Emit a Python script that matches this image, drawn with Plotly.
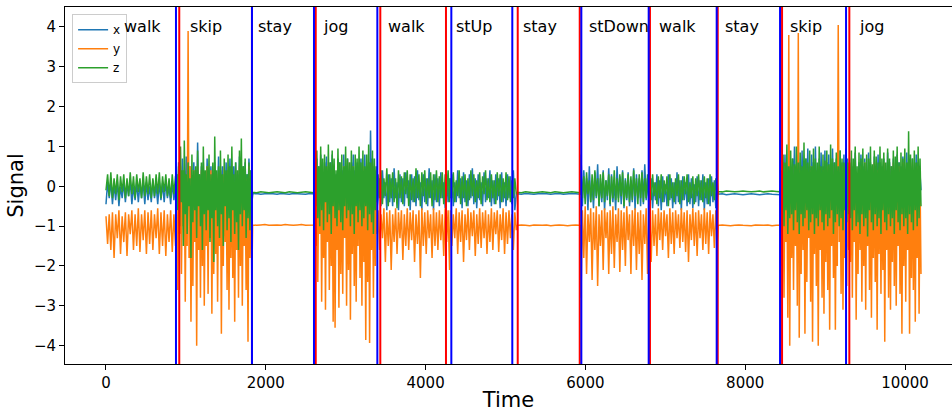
import numpy as np
import plotly.graph_objects as go

# ---------------- data ----------------
labels = ["walk", "skip", "stay", "jog", "walk", "stUp", "stay", "stDown", "walk", "stay", "skip", "jog"]
label_x = [213, 1039, 1890, 2703, 3513, 4368, 5210, 6036, 6905, 7735, 8548, 9415]
blue_lines = [876, 1827, 2603, 3396, 4322, 5085, 5949, 6792, 7643, 8436, 9262]
red_lines = [917, 1827, 2625, 3433, 4255, 5153, 5929, 6808, 7656, 8461, 9303]
x_ticks = [0, 2000, 4000, 6000, 8000, 10000]
x_tick_text = ["0", "2000", "4000", "6000", "8000", "10000"]
y_ticks = [-4, -3, -2, -1, 0, 1, 2, 3, 4]

seg_start = [0, 885, 1835, 2615, 3405, 4310, 5145, 5945, 6805, 7660, 8450, 9305]
seg_end = [870, 1825, 2600, 3395, 4300, 5135, 5935, 6795, 7650, 8440, 9295, 10200]

x_walk1 = [-0.45, 0.1, -0.3, 0.15, -0.45, 0.05, -0.35, 0.12, -0.5, 0.0, -0.3, 0.1, -0.4, 0.08, -0.25, 0.15, -0.45, 0.0, -0.35, 0.1, -0.4, 0.05, -0.3, 0.12, -0.45, 0.1, -0.35, 0.0, -0.4, 0.15, -0.3, 0.05, -0.45, 0.1, -0.35, 0.08, -0.4, 0.12, -0.3, 0.0, -0.45, 0.1, -0.35, 0.05]
y_walk1 = [-0.75, -1.45, -0.7, -1.6, -0.65, -1.8, -0.7, -1.3, -0.6, -1.7, -0.75, -1.4, -0.65, -1.75, -0.7, -1.2, -0.6, -1.6, -0.7, -1.5, -0.55, -1.65, -0.7, -1.35, -0.6, -1.7, -0.65, -1.45, -0.6, -1.6, -0.7, -1.3, -0.55, -1.7, -0.65, -1.5, -0.6, -1.75, -0.7, -1.4, -0.6, -1.65, -0.7, -1.5]
z_walk1 = [-0.1, 0.3, -0.25, 0.35, -0.3, 0.2, -0.2, 0.3, -0.35, 0.25, -0.15, 0.3, -0.3, 0.2, -0.25, 0.35, -0.2, 0.25, -0.3, 0.3, -0.15, 0.2, -0.3, 0.35, -0.25, 0.25, -0.2, 0.3, -0.3, 0.2, -0.25, 0.3, -0.2, 0.35, -0.3, 0.25, -0.15, 0.3, -0.25, 0.2, -0.3, 0.3, -0.2, 0.25]

x_skip1 = [0.3, -0.5, 0.6, -0.3, 0.2, -0.6, 0.7, -0.2, 0.4, -0.5, 0.75, -0.4, 0.3, -0.6, 0.5, -0.3, 0.2, -0.5, 0.6, -0.4, 0.4, -0.6, 1.1, -0.3, 0.3, -0.5, 0.5, -0.2, 0.6, -0.6, 0.2, -0.4, 0.7, -0.5, 0.4, -0.3, 0.5, -0.6, 0.3, -0.4, 0.6, -0.5, 0.2, -0.3, 0.75, -0.6, 0.4, -0.4, 0.5, -0.5, 0.3, -0.3, 0.6, -0.6, 0.4, -0.4, 0.7, -0.5, 0.2, -0.3, 0.5, -0.6, 0.6, -0.4, 0.3, -0.5, 0.75, -0.3, 0.4, -0.6, 0.5, -0.4, 0.6, -0.5, 0.3, -0.3, 0.7, -0.4, 0.4, -0.5]
y_skip1 = [-0.6, -2.6, 0.3, -1.2, 0.5, -2.2, 0.1, -1.0, 0.4, -2.9, 0.2, -1.5, 3.9, -1.8, 0.5, -3.4, -0.2, -2.5, 0.4, -1.4, 0.2, -4.0, 0.5, -1.6, 0.0, -2.8, 0.4, -2.0, 0.3, -3.0, -0.1, -1.5, 0.5, -2.7, 0.2, -1.3, 0.4, -3.2, 0.1, -2.2, 0.5, -1.7, 0.3, -2.9, 0.0, -1.5, 0.4, -3.7, 0.2, -2.0, 0.5, -1.4, 0.1, -2.6, 0.4, -3.1, 0.3, -1.8, 0.5, -2.3, 0.0, -3.4, 0.4, -1.6, 0.2, -2.8, 0.5, -2.0, 0.3, -3.0, 0.1, -1.5, 0.4, -2.6, 0.2, -3.9, 0.5, -1.8, 0.3, -2.4]
z_skip1 = [0.3, -0.6, 0.5, -1.0, 1.0, -0.4, 0.4, -1.5, 1.15, -0.7, 0.3, -1.2, 0.6, -0.5, 0.2, -1.8, 0.8, -0.9, 0.4, -0.6, 0.5, -1.3, 0.9, -0.5, 0.3, -1.0, 0.6, -1.6, 1.0, -0.7, 0.4, -1.1, 0.5, -0.6, 0.8, -1.4, 0.3, -0.8, 0.6, -1.9, 1.25, -0.6, 0.4, -1.0, 0.5, -1.3, 0.9, -0.7, 0.3, -1.5, 0.7, -0.5, 0.4, -1.1, 0.8, -0.8, 0.5, -1.4, 1.0, -0.6, 0.3, -1.2, 0.6, -0.9, 0.4, -1.6, 0.9, -0.7, 1.2, -1.0, 0.5, -0.6, 0.7, -1.3, 0.3, -0.8, 0.6, -1.1, 0.4, -0.5]

x_stay1 = [-0.19, -0.18, -0.2, -0.19, -0.18, -0.19, -0.2, -0.18, -0.19, -0.2, -0.18, -0.19, -0.19, -0.2, -0.18, -0.19]
y_stay1 = [-0.97, -0.98, -0.97, -0.96, -0.98, -0.97, -0.97, -0.98, -0.96, -0.97, -0.98, -0.97, -0.96, -0.98, -0.97, -0.97]
z_stay1 = [-0.15, -0.16, -0.14, -0.15, -0.16, -0.15, -0.14, -0.15, -0.16, -0.14, -0.15, -0.16, -0.15, -0.14, -0.15, -0.16]

x_jog1 = [0.4, -0.4, 0.7, -0.3, 0.5, -0.6, 0.8, -0.2, 0.3, -0.5, 0.6, -0.4, 0.75, -0.3, 0.4, -0.6, 0.6, -0.5, 0.8, -0.3, 0.5, -0.4, 0.3, -0.6, 0.7, -0.2, 0.6, -0.5, 0.4, -0.4, 0.8, -0.3, 0.5, -0.6, 0.7, -0.4, 0.3, -0.5, 0.6, -0.2, 0.8, -0.4, 0.4, -0.6, 0.6, -0.3, 0.5, -0.5, 0.7, -0.4, 0.3, -0.3, 0.8, -0.6, 0.5, -0.4, 0.6, -0.5, 1.4, -0.3, 0.7, -0.4, 0.5, -0.6, 0.4, -0.5]
y_jog1 = [-0.2, -1.5, 0.4, -2.4, 0.2, -1.2, 0.6, -2.9, 0.1, -1.8, 0.5, -3.1, 0.3, -1.4, 0.6, -2.6, 0.0, -2.0, 0.4, -3.4, 0.5, -3.55, 0.2, -1.6, 0.6, -3.05, 0.3, -2.2, 0.1, -2.7, 0.5, -1.3, 0.4, -3.0, 0.2, -2.1, 0.6, -3.35, 0.3, -1.7, 0.5, -2.5, 0.0, -2.9, 0.4, -1.5, 0.6, -2.3, 0.2, -3.0, 0.5, -1.9, 0.3, -3.86, 0.4, -2.4, 0.6, -3.93, 0.1, -1.6, 0.5, -2.8, 0.3, -2.0, 0.4, -1.2]
z_jog1 = [0.6, -0.5, 0.9, -0.8, 0.5, -1.0, 1.0, -0.6, 0.7, -1.1, 0.8, -0.4, 0.5, -0.9, 1.05, -0.7, 0.6, -1.2, 0.9, -0.5, 0.7, -0.8, 0.4, -1.0, 0.95, -0.6, 0.6, -0.9, 0.8, -1.1, 0.5, -0.5, 1.0, -0.8, 0.7, -0.6, 0.6, -1.0, 0.9, -0.7, 0.5, -1.2, 0.8, -0.5, 0.7, -0.9, 1.0, -0.6, 0.6, -1.0, 0.9, -0.8, 0.5, -0.5, 0.8, -1.1, 1.05, -0.7, 0.6, -0.9, 0.9, -1.2, 0.7, -0.6, 0.5, -0.4]

x_walk2 = [-0.3, 0.2, -0.5, 0.4, -0.3, 0.1, -0.6, 0.3, -0.4, 0.2, -0.5, 0.45, -0.3, 0.1, -0.6, 0.3, -0.4, 0.2, -0.5, 0.35, -0.3, 0.15, -0.6, 0.3, -0.4, 0.25, -0.5, 0.4, -0.35, 0.1, -0.6, 0.3, -0.4, 0.2, -0.5, 0.45, -0.3, 0.15, -0.6, 0.3, -0.4, 0.2, -0.5, 0.35, -0.3, 0.1, -0.55, 0.3, -0.4, 0.2]
y_walk2 = [-0.6, -1.6, -0.7, -1.3, -0.55, -1.9, -0.65, -1.5, -0.6, -2.1, -0.7, -1.4, -0.55, -1.7, -0.65, -1.3, -0.6, -1.85, -0.7, -1.5, -0.55, -1.6, -0.65, -1.35, -0.6, -1.9, -0.7, -1.45, -0.6, -2.3, -0.55, -1.5, -0.65, -1.7, -0.6, -1.3, -0.7, -1.8, -0.55, -1.5, -0.65, -1.6, -0.6, -1.35, -0.7, -1.75, -0.55, -1.4, -0.6, -2.1]
z_walk2 = [0.3, -0.3, 0.4, -0.45, 0.2, -0.25, 0.45, -0.5, 0.3, -0.3, 0.35, -0.4, 0.2, -0.55, 0.4, -0.3, 0.25, -0.45, 0.35, -0.2, 0.4, -0.5, 0.3, -0.35, 0.2, -0.4, 0.45, -0.3, 0.3, -0.5, 0.35, -0.25, 0.4, -0.45, 0.2, -0.3, 0.35, -0.5, 0.3, -0.35, 0.4, -0.4, 0.25, -0.3, 0.35, -0.45, 0.3, -0.25, 0.4, -0.4]

x_stup = [-0.3, 0.3, -0.5, 0.1, -0.4, 0.4, -0.3, 0.2, -0.55, 0.35, -0.4, 0.15, -0.5, 0.3, -0.3, 0.45, -0.45, 0.2, -0.55, 0.3, -0.35, 0.1, -0.5, 0.35, -0.4, 0.2, -0.3, 0.4, -0.5, 0.15, -0.45, 0.3, -0.35, 0.2, -0.55, 0.35, -0.4, 0.1, -0.5, 0.3, -0.3, 0.25, -0.45, 0.4, -0.6, -0.2]
y_stup = [-0.6, -1.5, -0.7, -1.3, -0.55, -1.7, -0.65, -1.4, -0.6, -1.9, -0.7, -1.35, -0.55, -1.6, -0.65, -1.25, -0.6, -1.75, -0.7, -1.45, -0.55, -1.55, -0.65, -1.3, -0.6, -1.7, -0.7, -1.4, -0.55, -1.6, -0.65, -1.2, -0.6, -1.65, -0.7, -1.35, -0.55, -1.7, -0.65, -1.45, -0.6, -1.3, -0.7, -1.6, -0.65, -1.1]
z_stup = [0.2, -0.3, 0.35, -0.4, 0.15, -0.25, 0.4, -0.45, 0.25, -0.3, 0.3, -0.5, 0.2, -0.35, 0.4, -0.25, 0.3, -0.4, 0.15, -0.3, 0.35, -0.45, 0.25, -0.2, 0.4, -0.35, 0.2, -0.4, 0.3, -0.3, 0.15, -0.45, 0.35, -0.25, 0.3, -0.4, 0.2, -0.3, 0.35, -0.35, 0.25, -0.4, 0.15, -0.3, 0.2, -0.2]

x_stay2 = [-0.19, -0.2, -0.18, -0.19, -0.2, -0.19, -0.18, -0.19, -0.2, -0.19, -0.18, -0.2, -0.19, -0.18, -0.19, -0.2]
y_stay2 = [-0.98, -0.97, -0.98, -0.99, -0.97, -0.98, -0.98, -0.97, -0.99, -0.98, -0.97, -0.98, -0.99, -0.98, -0.97, -0.98]
z_stay2 = [-0.15, -0.16, -0.14, -0.15, -0.16, -0.15, -0.14, -0.15, -0.16, -0.14, -0.15, -0.16, -0.15, -0.14, -0.15, -0.16]

x_stdown = [0.8, -0.5, 0.4, -0.3, 0.2, -0.6, 0.5, -0.4, 0.1, -0.55, 0.35, -0.3, 0.55, -0.5, 0.2, -0.4, 0.4, -0.6, 0.15, -0.35, 0.45, -0.5, 0.3, -0.4, 0.1, -0.6, 0.5, -0.3, 0.25, -0.45, 0.4, -0.55, 0.2, -0.35, 0.35, -0.5, 0.15, -0.4, 0.45, -0.6, 0.3, -0.3, 0.2, -0.5, 0.4, -0.45, 0.55, -0.35, 0.2, -0.5]
y_stdown = [-2.8, -0.6, -1.8, -0.5, -2.2, -0.7, -1.4, -0.55, -2.35, -0.65, -1.6, -0.5, -2.5, -0.7, -1.5, -0.6, -2.1, -0.55, -1.3, -0.65, -2.2, -0.6, -1.7, -0.5, -2.05, -0.7, -1.4, -0.55, -2.15, -0.6, -1.6, -0.65, -2.0, -0.5, -1.35, -0.7, -2.2, -0.6, -1.5, -0.55, -2.1, -0.65, -1.7, -0.6, -2.35, -0.7, -1.45, -0.55, -2.2, -0.65]
z_stdown = [0.3, -0.3, 0.25, -0.45, 0.35, -0.2, 0.15, -0.4, 0.3, -0.35, 0.4, -0.25, 0.2, -0.5, 0.3, -0.3, 0.35, -0.4, 0.15, -0.25, 0.3, -0.45, 0.25, -0.3, 0.4, -0.35, 0.2, -0.4, 0.3, -0.25, 0.35, -0.5, 0.15, -0.3, 0.3, -0.4, 0.25, -0.35, 0.4, -0.25, 0.2, -0.45, 0.3, -0.3, 0.35, -0.4, 0.2, -0.3, 0.3, -0.35]

x_walk3 = [-0.4, 0.2, -0.55, 0.1, -0.35, 0.3, -0.5, 0.15, -0.6, 0.25, -0.4, 0.05, -0.5, 0.3, -0.35, 0.2, -0.55, 0.1, -0.45, 0.35, -0.4, 0.15, -0.6, 0.25, -0.35, 0.1, -0.5, 0.3, -0.45, 0.2, -0.55, 0.05, -0.4, 0.25, -0.5, 0.15, -0.35, 0.3, -0.6, 0.1, -0.45, 0.2, -0.5, 0.25, -0.4, 0.15, -0.55, 0.1]
y_walk3 = [-0.65, -1.9, -0.6, -1.5, -0.7, -1.75, -0.55, -1.35, -0.65, -1.6, -0.6, -1.25, -0.7, -1.8, -0.55, -1.45, -0.65, -1.7, -0.6, -1.3, -0.7, -1.55, -0.55, -1.4, -0.65, -1.65, -0.6, -1.9, -0.7, -1.35, -0.55, -1.5, -0.65, -1.75, -0.6, -1.3, -0.7, -1.6, -0.55, -1.45, -0.65, -1.7, -0.6, -1.25, -0.7, -1.55, -0.6, -1.4]
z_walk3 = [0.2, -0.35, 0.3, -0.25, 0.1, -0.45, 0.25, -0.3, 0.3, -0.4, 0.15, -0.2, 0.25, -0.5, 0.3, -0.3, 0.1, -0.4, 0.2, -0.25, 0.3, -0.45, 0.15, -0.35, 0.25, -0.2, 0.3, -0.4, 0.1, -0.3, 0.25, -0.45, 0.2, -0.25, 0.3, -0.35, 0.15, -0.4, 0.25, -0.3, 0.2, -0.45, 0.3, -0.25, 0.1, -0.35, 0.2, -0.3]

x_stay3 = [-0.2, -0.19, -0.21, -0.2, -0.19, -0.2, -0.21, -0.2, -0.19, -0.2, -0.21, -0.2, -0.19, -0.2, -0.2, -0.21]
y_stay3 = [-0.98, -0.97, -0.98, -0.99, -0.98, -0.97, -0.98, -0.98, -0.99, -0.97, -0.98, -0.98, -0.97, -0.99, -0.98, -0.98]
z_stay3 = [-0.13, -0.14, -0.12, -0.13, -0.14, -0.13, -0.12, -0.13, -0.14, -0.13, -0.12, -0.14, -0.13, -0.12, -0.13, -0.14]

x_skip2 = [0.3, -0.4, 0.6, -0.5, 0.8, -0.3, 0.5, -0.6, 0.9, -0.4, 0.4, -0.5, 0.7, -0.2, 1.0, -0.6, 0.5, -0.4, 0.8, -0.5, 0.6, -0.3, 0.9, -0.6, 0.4, -0.4, 0.7, -0.5, 0.95, -0.3, 0.5, -0.6, 0.8, -0.4, 0.6, -0.5, 1.0, -0.3, 0.4, -0.6, 0.7, -0.4, 0.85, -0.5, 0.5, -0.3, 0.9, -0.6, 0.6, -0.4, 0.8, -0.5, 0.4, -0.3, 0.95, -0.6, 0.6, -0.4, 0.7, -0.5, 0.5, -0.3, 0.9, -0.6, 0.6, -0.4, 0.8, -0.5, 0.4, -0.3, 0.7, -0.4]
y_skip2 = [-0.3, -2.0, 0.3, -2.8, 0.5, -1.4, 0.2, -3.3, 3.8, -4.0, 0.4, -1.8, 0.1, -2.6, 0.5, -1.5, 0.3, -3.0, 3.85, -3.8, 0.4, -2.2, 0.2, -1.6, 0.5, -3.7, 0.3, -2.4, 0.0, -1.3, 0.4, -2.9, 0.5, -3.9, 0.2, -1.7, 0.4, -2.5, 0.3, -4.0, 0.5, -1.6, 0.1, -2.8, 0.4, -3.2, 0.2, -1.9, 0.5, -2.6, 0.3, -3.6, 0.4, -1.5, 0.2, -2.3, 0.5, -3.6, 0.1, -2.0, 4.05, -1.4, 0.3, -2.7, 0.5, -3.1, 0.2, -1.8, 0.4, -2.5, 0.3, -1.6]
z_skip2 = [0.4, -0.7, 0.8, -1.0, 0.6, -0.6, 1.05, -1.2, 0.5, -0.8, 0.9, -0.7, 0.7, -1.1, 0.55, -0.6, 1.0, -0.9, 0.6, -1.2, 0.85, -0.7, 0.5, -1.0, 1.1, -0.8, 0.7, -0.6, 0.6, -1.1, 0.9, -0.9, 0.5, -0.7, 0.95, -1.2, 0.7, -0.8, 0.6, -1.0, 1.0, -0.6, 0.5, -0.9, 0.8, -1.1, 0.65, -0.7, 0.9, -1.0, 0.55, -0.8, 1.05, -0.6, 0.7, -1.2, 0.6, -0.9, 0.85, -0.7, 0.5, -1.0, 0.9, -0.8, 0.7, -1.1, 0.6, -0.6, 0.95, -0.9, 0.6, -0.7]

x_jog2 = [0.4, -0.3, 0.7, -0.2, 0.5, -0.4, 0.85, -0.1, 0.3, -0.3, 0.6, -0.4, 0.8, -0.2, 0.5, -0.3, 0.7, -0.4, 0.4, -0.1, 0.85, -0.3, 0.6, -0.2, 0.5, -0.4, 0.75, -0.3, 0.3, -0.2, 0.8, -0.4, 0.6, -0.1, 0.5, -0.3, 0.7, -0.2, 0.4, -0.4, 0.85, -0.3, 0.6, -0.2, 0.5, -0.4, 0.7, -0.1, 0.3, -0.3, 0.8, -0.2, 0.6, -0.4, 0.5, -0.3, 0.75, -0.2, 0.4, -0.4, 0.85, -0.1, 0.6, -0.3, 0.5, -0.2, 0.7, -0.4, 0.4, -0.3, 0.8, -0.2, 0.6, -0.3, 0.3, -0.1]
y_jog2 = [0.2, -1.9, 0.5, -2.8, 0.3, -1.4, 0.6, -3.35, 0.1, -2.2, 0.4, -1.6, 0.5, -2.9, 0.2, -2.0, 0.6, -3.1, 0.3, -1.5, 0.4, -2.6, 0.5, -3.3, 0.1, -1.8, 0.6, -2.4, 0.3, -3.6, 0.4, -1.7, 0.5, -2.7, 0.2, -2.1, 0.6, -3.9, 0.3, -1.6, 0.4, -2.8, 0.5, -3.1, 0.2, -1.9, 0.6, -2.5, 0.3, -3.0, 0.4, -1.5, 0.5, -2.7, 0.1, -3.7, 0.6, -2.0, 0.3, -2.9, 0.4, -1.6, 0.5, -3.7, 0.2, -2.3, 0.6, -2.6, 0.3, -3.4, 0.4, -1.8, 0.5, -3.2, 0.2, -2.2]
z_jog2 = [0.6, -0.8, 0.9, -1.1, 0.7, -0.6, 1.0, -1.0, 0.5, -0.9, 0.85, -1.2, 0.7, -0.7, 0.95, -1.0, 0.6, -0.8, 0.8, -1.26, 0.7, -0.6, 1.0, -0.9, 0.55, -1.1, 0.9, -0.7, 0.75, -1.0, 0.6, -0.8, 1.0, -1.2, 0.7, -0.6, 0.85, -0.9, 0.6, -1.1, 0.95, -0.7, 0.7, -1.0, 0.5, -0.8, 0.9, -1.2, 0.75, -0.6, 1.0, -0.9, 0.6, -1.1, 0.85, -0.7, 0.7, -1.0, 0.95, -0.8, 0.6, -1.2, 1.38, -0.7, 0.8, -0.9, 0.7, -1.1, 0.9, -0.6, 0.6, -1.0, 1.0, -0.8, 0.7, -0.5]

x_segments = [x_walk1, x_skip1, x_stay1, x_jog1, x_walk2, x_stup, x_stay2, x_stdown, x_walk3, x_stay3, x_skip2, x_jog2]
y_segments = [y_walk1, y_skip1, y_stay1, y_jog1, y_walk2, y_stup, y_stay2, y_stdown, y_walk3, y_stay3, y_skip2, y_jog2]
z_segments = [z_walk1, z_skip1, z_stay1, z_jog1, z_walk2, z_stup, z_stay2, z_stdown, z_walk3, z_stay3, z_skip2, z_jog2]


def build(segments):
    t_all, v_all = [], []
    for s, e, vals in zip(seg_start, seg_end, segments):
        t_all.extend(np.linspace(s, e, len(vals)).tolist())
        v_all.extend(vals)
    return t_all, v_all


FONT = "DejaVu Sans"
fig = go.Figure()
for name, segs, color in [("x", x_segments, "#1f77b4"), ("y", y_segments, "#ff7f0e"), ("z", z_segments, "#2ca02c")]:
    t, v = build(segs)
    fig.add_trace(go.Scatter(x=t, y=v, mode="lines", name=name,
                             line=dict(color=color, width=1.5)))

for xv in red_lines:
    fig.add_shape(type="line", x0=xv, x1=xv, y0=0, y1=1, xref="x", yref="paper",
                  line=dict(color="red", width=2))
for xv in blue_lines:
    fig.add_shape(type="line", x0=xv, x1=xv, y0=0, y1=1, xref="x", yref="paper",
                  line=dict(color="blue", width=2))

for lab, lx in zip(labels, label_x):
    fig.add_annotation(x=lx, y=4.0, xref="x", yref="y", text=lab, showarrow=False,
                       xanchor="left", yanchor="middle", borderpad=0,
                       font=dict(family=FONT, size=16, color="black"))

fig.update_layout(
    width=952, height=412,
    margin=dict(l=65, r=0, t=7, b=48),
    paper_bgcolor="white", plot_bgcolor="white",
    font=dict(family=FONT, color="black"),
    showlegend=True,
    legend=dict(x=0.008, y=0.98, xanchor="left", yanchor="top",
                bgcolor="rgba(255,255,255,0.8)", bordercolor="#cccccc", borderwidth=1,
                font=dict(family=FONT, size=12), itemwidth=30),
)
fig.update_xaxes(range=[-513, 10588], tickvals=x_ticks, ticktext=x_tick_text,
                 ticks="outside", ticklen=5, tickcolor="black", showline=True, linecolor="black",
                 linewidth=1, mirror=True, showgrid=False, zeroline=False, automargin=False,
                 tickfont=dict(family=FONT, size=15),
                 title=dict(text="Time", font=dict(family=FONT, size=21), standoff=2))
fig.update_yaxes(range=[-4.46, 4.5], tickvals=y_ticks,
                 ticks="outside", ticklen=5, tickcolor="black", showline=True, linecolor="black",
                 linewidth=1, mirror=False, showgrid=False, zeroline=False, automargin=False,
                 tickfont=dict(family=FONT, size=15),
                 title=dict(text="Signal", font=dict(family=FONT, size=21), standoff=4))

fig.write_html("out.html", config={"displayModeBar": False},
               post_script="document.body.style.margin='0';")
